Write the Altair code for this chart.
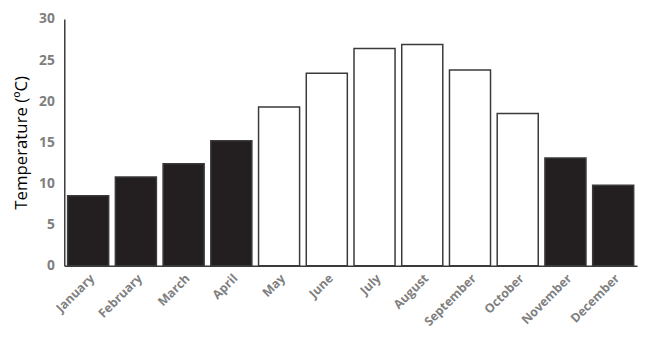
import altair as alt
import pandas as pd

months = ["January", "February", "March", "April", "May", "June", "July",
          "August", "September", "October", "November", "December"]
temps = [8.5, 10.8, 12.4, 15.2, 19.3, 23.4, 26.4, 26.9, 23.8, 18.5, 13.1, 9.8]
season = ["cold", "cold", "cold", "cold", "warm", "warm", "warm",
          "warm", "warm", "warm", "cold", "cold"]

df = pd.DataFrame({"month": months, "temp": temps, "season": season})

chart = alt.Chart(df).mark_bar(stroke="#3a3a3a", strokeWidth=1.5).encode(
    x=alt.X("month:N", sort=months, title=None,
            scale=alt.Scale(paddingInner=0.14, paddingOuter=0.07),
            axis=alt.Axis(labelAngle=-45, labelFont="Open Sans", labelFontWeight="bold",
                          labelFontSize=12.5, labelColor="#7f7f7f", ticks=False,
                          domainColor="#3a3a3a", domainWidth=1.5, labelPadding=6)),
    y=alt.Y("temp:Q", title="Temperature (ºC)",
            scale=alt.Scale(domain=[0, 30]),
            axis=alt.Axis(values=[0, 5, 10, 15, 20, 25, 30], grid=False, ticks=False,
                          labelFont="Open Sans", labelFontWeight="bold", labelFontSize=14,
                          labelColor="#7f7f7f", labelPadding=10,
                          domainColor="#3a3a3a", domainWidth=1.5,
                          titleFont="Open Sans", titleFontWeight="normal",
                          titleFontSize=17, titleColor="#000000", titlePadding=8)),
    color=alt.Color("season:N", legend=None,
                    scale=alt.Scale(domain=["cold", "warm"], range=["#231f20", "#ffffff"])),
).properties(
    width=580, height=250,
    autosize=alt.AutoSizeParams(type="none"),
    padding={"left": 57, "top": 9, "right": 4, "bottom": 65},
).configure_view(stroke=None)

chart.save("out.html", embed_options={"renderer": "svg", "actions": False})
